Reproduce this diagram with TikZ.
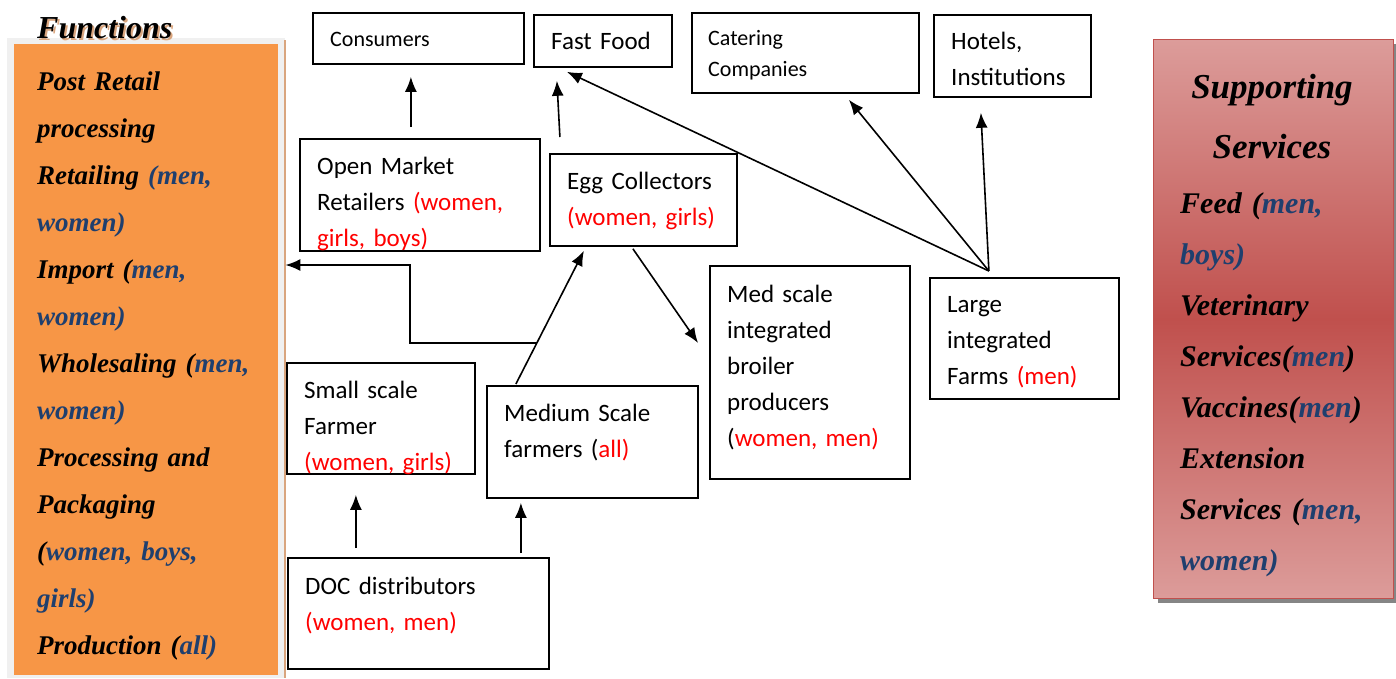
\documentclass[tikz,border=0pt]{standalone}
\usepackage{fontspec}
\setmainfont{Carlito}
\newfontfamily\bifont{Liberation Serif}
\usetikzlibrary{arrows.meta,calc,shadows}
\definecolor{rd}{RGB}{255,0,0}
\definecolor{bl}{HTML}{1F3F6E}
\definecolor{orng}{HTML}{F79646}
\definecolor{pinkL}{HTML}{DC9C9A}
\definecolor{redD}{HTML}{C0504D}
\definecolor{tanc}{HTML}{D9A57E}
\definecolor{framec}{HTML}{F0F0F0}
\begin{document}
\begin{tikzpicture}[x=1pt,y=-1pt,
  box/.style={draw=black, line width=1.8pt, rectangle, inner sep=0pt, anchor=north west},
  txt/.style={anchor=base west, inner sep=0pt, align=left, text width=#1},
  big/.style={font=\fontsize{25}{36}\selectfont},
  small/.style={font=\fontsize{22}{31}\selectfont},
  panel/.style={font=\bifont\bfseries\itshape\fontsize{27}{47}\selectfont},
  spanel/.style={font=\bifont\bfseries\itshape\fontsize{30}{51}\selectfont},
  arr/.style={line width=1.6pt, -{Latex[length=15pt,width=12pt]}}]
\useasboundingbox (0,0) rectangle (1396,678);
% left panel
\node[rectangle, fill=framec, inner sep=0pt, anchor=north west, minimum width=278pt, minimum height=640pt] (func) at (7,38) {};
\fill[orng] (14,44) rectangle (278,675);
\draw[tanc, line width=1.5pt] (285,40) -- (285,678);
\node[anchor=base west, inner sep=0pt, text=tanc, font=\bifont\bfseries\itshape\fontsize{32}{36}\selectfont] (ftitleS) at (39,40) {Functions};
\node[anchor=base west, inner sep=0pt, font=\bifont\bfseries\itshape\fontsize{32}{36}\selectfont] (ftitle) at (37,38) {Functions};
\node[txt=240pt, panel] (funcT) at (37,90) {Post Retail\\processing\\Retailing \textcolor{bl}{(men,}\\\textcolor{bl}{women)}\\Import (\textcolor{bl}{men,}\\\textcolor{bl}{women)}\\Wholesaling (\textcolor{bl}{men,}\\\textcolor{bl}{women)}\\Processing and\\Packaging\\(\textcolor{bl}{women, boys,}\\\textcolor{bl}{girls)}\\Production (\textcolor{bl}{all)}};
% right panel
\node[rectangle, draw=redD, line width=1.2pt, inner sep=0pt, anchor=north west, minimum width=240pt, minimum height=559pt,
  top color=pinkL, bottom color=pinkL, middle color=redD,
  drop shadow={shadow xshift=4pt, shadow yshift=-4pt, fill=black!60, opacity=0.8}] (supp) at (1153,39) {};
\node[anchor=base, inner sep=0pt, align=center, text width=240pt, font=\bifont\bfseries\itshape\fontsize{35}{60}\selectfont] (suppT) at (1272,98) {Supporting\\Services};
\node[txt=215pt, spanel] (suppB) at (1180,213) {Feed (\textcolor{bl}{men,}\\\textcolor{bl}{boys)}\\Veterinary\\Services(\textcolor{bl}{men})\\Vaccines(\textcolor{bl}{men})\\Extension\\Services (\textcolor{bl}{men,}\\\textcolor{bl}{women)}};
% boxes
\node[box, minimum width=211pt, minimum height=51pt] (cons) at (312,12) {};
\node[txt=190pt, small] (consT) at (330,46) {Consumers};
\node[box, minimum width=138pt, minimum height=52pt] (ff) at (533,14) {};
\node[txt=120pt, big] (ffT) at (551,49) {Fast Food};
\node[box, minimum width=227pt, minimum height=80pt] (cat) at (691,12) {};
\node[txt=200pt, small] (catT) at (708,45) {Catering\\Companies};
\node[box, minimum width=157pt, minimum height=82pt] (hot) at (933,14) {};
\node[txt=140pt, big] (hotT) at (951,49) {Hotels,\\Institutions};
\node[box, minimum width=240pt, minimum height=112pt] (omr) at (299,138) {};
\node[txt=220pt, big] (omrT) at (317,174) {Open Market\\Retailers \textcolor{rd}{(women,}\\\textcolor{rd}{girls, boys)}};
\node[box, minimum width=187pt, minimum height=92pt] (egg) at (549,153) {};
\node[txt=170pt, big] (eggT) at (567,189) {Egg Collectors\\\textcolor{rd}{(women, girls)}};
\node[box, minimum width=200pt, minimum height=213pt] (med) at (709,265) {};
\node[txt=180pt, big] (medT) at (727,302) {Med scale\\integrated\\broiler\\producers\\(\textcolor{rd}{women, men)}};
\node[box, minimum width=189pt, minimum height=121pt] (large) at (929,277) {};
\node[txt=170pt, big] (largeT) at (947,312) {Large\\integrated\\Farms \textcolor{rd}{(men)}};
\node[box, minimum width=188pt, minimum height=111pt] (small) at (286,362) {};
\node[txt=170pt, big] (smallT) at (304,398) {Small scale\\Farmer\\\textcolor{rd}{(women, girls)}};
\node[box, minimum width=211pt, minimum height=112pt] (medsc) at (486,385) {};
\node[txt=190pt, big] (medscT) at (504,421) {Medium Scale\\farmers (\textcolor{rd}{all)}};
\node[box, minimum width=261pt, minimum height=111pt] (doc) at (287,557) {};
\node[txt=240pt, big] (docT) at (305,594) {DOC distributors\\\textcolor{rd}{(women, men)}};
% connectors
\draw[arr] ([shift={(-9,-11)}]omr.north) -- ([shift={(-7.5,12)}]cons.south);
\draw[arr] ([shift={(-83.5,-16)}]egg.north) -- ([shift={(-46,13)}]ff.south);
\coordinate (lg) at ([shift={(-35.5,-6)}]large.north);
\draw[arr] (lg) -- ([shift={(-36,4)}]ff.south);
\draw[arr] (lg) -- ([shift={(43.5,6)}]cat.south);
\draw[arr] (lg) -- ([shift={(-31.5,15)}]hot.south);
\coordinate (ms) at ([shift={(-76.5,-1)}]medsc.north);
\coordinate (ec) at ([shift={(-59.5,4)}]egg.south);
\draw[arr] (ms) -- (ec);
\draw[arr] ([shift={(-10.5,2)}]egg.south) -- ([shift={(-11,-29.5)}]med.west);
\draw[arr] ([shift={(-62.5,-9)}]doc.north) -- ([shift={(-25,20)}]small.south);
\draw[arr] ([shift={(102.5,-4)}]doc.north) -- ([shift={(-71.5,4)}]medsc.south);
\coordinate (el) at ($(ms)!0.309!(ec)$);
\coordinate (bend) at (410,265);
\draw[arr] (el) -| (bend) -- (func.east |- bend);
\end{tikzpicture}
\end{document}
